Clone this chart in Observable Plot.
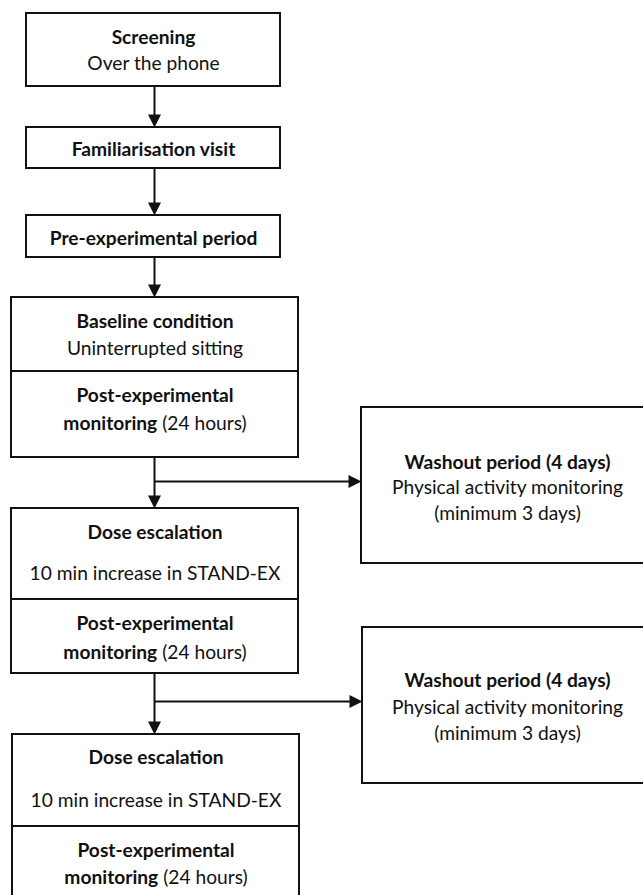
<!DOCTYPE html>
<html>
<head>
<meta charset="utf-8">
<script src="https://cdn.jsdelivr.net/npm/d3@7"></script>
<script src="https://cdn.jsdelivr.net/npm/@observablehq/plot@0.6"></script>
<style>
  html, body { margin: 0; padding: 0; background: #ffffff; }
  #chart svg { display: block; }
</style>
</head>
<body>
<div id="chart"></div>
<script>
// ---------- Diagram content (layout units = pixels of the 643 x 895 figure) ----------
const boxIds   = ["screening", "familiarisation", "preExperimental", "baseline", "post1", "dose1", "post2", "dose2", "post3", "washout1", "washout2"];
const boxLeft  = [26, 26, 26, 11, 11, 11, 11, 12, 12, 361, 362];
const boxRight = [280, 280, 280, 298, 298, 298, 298, 299, 299, 680, 680];
const boxTop   = [13, 127, 215, 297, 371, 508, 599, 734, 826, 407, 627];
const boxBottom= [86, 168, 257, 371, 457, 599, 673, 826, 920, 563, 783];

// connector segments
const segX1 = [154, 154, 154, 154, 154, 154, 154];
const segY1 = [86, 168, 257, 457, 481, 673, 701];
const segX2 = [154, 154, 154, 154, 352, 154, 353];
const segY2 = [120, 208, 290, 501, 481, 727, 701];

// arrow heads (tip positions and direction)
const headX   = [154, 154, 154, 154, 361, 154, 362];
const headY   = [127, 215, 297, 508, 481, 734, 701];
const headDir = ["down", "down", "down", "down", "right", "down", "right"];

// single-style text lines
const lineText = [
  "Screening", "Over the phone",
  "Familiarisation visit",
  "Pre-experimental period",
  "Baseline condition", "Uninterrupted sitting",
  "Post-experimental",
  "Washout period (4 days)", "Physical activity monitoring", "(minimum 3 days)",
  "Dose escalation", "10 min increase in STAND-EX",
  "Post-experimental",
  "Washout period (4 days)", "Physical activity monitoring", "(minimum 3 days)",
  "Dose escalation", "10 min increase in STAND-EX",
  "Post-experimental"
];
const lineBold = [
  true, false,
  true,
  true,
  true, false,
  true,
  true, false, false,
  true, false,
  true,
  true, false, false,
  true, false,
  true
];
const lineX = [
  153, 153,
  153,
  153,
  154.5, 154.5,
  154.5,
  507, 507, 507,
  154.5, 154.5,
  154.5,
  507, 507, 507,
  155.5, 155.5,
  155.5
];
const lineY = [
  37, 63,
  149,
  238,
  321, 348,
  395,
  462, 487, 513,
  532, 573,
  623,
  680, 707, 733,
  757, 800,
  850
];

// mixed-style lines: bold part + regular part
const mixedBold    = ["monitoring", "monitoring", "monitoring"];
const mixedRegular = ["(24 hours)", "(24 hours)", "(24 hours)"];
const mixedX       = [154.5, 154.5, 155.5];
const mixedY       = [423, 652, 877];

// ---------- Styling ----------
const FONT = "Lato";
const W = 643, H = 895;

const canvas = document.createElement("canvas");
const ctx = canvas.getContext("2d");
function measure(text, bold, size) {
  ctx.font = `${bold ? "bold " : ""}${size}px ${FONT}`;
  return ctx.measureText(text).width;
}
// size the font so a reference line matches its width in the figure (232 px)
let FS = 19;
const refW = measure("Physical activity monitoring", false, 100);
if (refW > 0) FS = Math.round(232 / refW * 100 * 10) / 10;

// ---------- Build tables ----------
const boxes = boxIds.map((id, i) => ({id, x1: boxLeft[i], x2: boxRight[i], y1: boxTop[i], y2: boxBottom[i]}));
const segments = segX1.map((_, i) => ({x1: segX1[i], y1: segY1[i], x2: segX2[i], y2: segY2[i]}));
const heads = headX.map((_, i) => ({x: headX[i], y: headY[i], rotate: headDir[i] === "right" ? -90 : 0}));
const lines = lineText.map((t, i) => ({text: t, bold: lineBold[i], x: lineX[i], y: lineY[i]}));

const mixedParts = [];
mixedBold.forEach((b, i) => {
  const wb = measure(b, true, FS);
  const ws = measure(" ", false, FS);
  const wr = measure(mixedRegular[i], false, FS);
  const start = mixedX[i] - (wb + ws + wr) / 2;
  mixedParts.push({text: b, bold: true, x: start, y: mixedY[i]});
  mixedParts.push({text: mixedRegular[i], bold: false, x: start + wb + ws, y: mixedY[i]});
});

// filled triangle with its tip at the origin, pointing down
const arrowHead = {
  draw(context) {
    const hw = 6.5, len = 13;
    context.moveTo(0, 0);
    context.lineTo(-hw, -len);
    context.lineTo(hw, -len);
    context.closePath();
  }
};

const textCommon = {fontFamily: FONT, fontSize: FS, fill: "#111", lineAnchor: "middle"};

const chart = Plot.plot({
  width: W,
  height: H,
  margin: 0,
  x: {domain: [0, W], range: [0, W], axis: null},
  y: {domain: [0, H], range: [0, H], axis: null},
  style: {background: "#ffffff", fontFamily: FONT},
  marks: [
    Plot.rect(boxes, {x1: "x1", x2: "x2", y1: "y1", y2: "y2", fill: "white", stroke: "#111", strokeWidth: 2}),
    Plot.link(segments, {x1: "x1", y1: "y1", x2: "x2", y2: "y2", stroke: "#111", strokeWidth: 2}),
    Plot.dot(heads, {x: "x", y: "y", rotate: "rotate", symbol: arrowHead, r: 5, fill: "#111", stroke: "none"}),
    Plot.text(lines.filter(d => d.bold), {x: "x", y: "y", text: "text", fontWeight: "bold", textAnchor: "middle", ...textCommon}),
    Plot.text(lines.filter(d => !d.bold), {x: "x", y: "y", text: "text", fontWeight: "normal", textAnchor: "middle", ...textCommon}),
    Plot.text(mixedParts.filter(d => d.bold), {x: "x", y: "y", text: "text", fontWeight: "bold", textAnchor: "start", ...textCommon}),
    Plot.text(mixedParts.filter(d => !d.bold), {x: "x", y: "y", text: "text", fontWeight: "normal", textAnchor: "start", ...textCommon})
  ]
});
document.getElementById("chart").appendChild(chart);
</script>
</body>
</html>
